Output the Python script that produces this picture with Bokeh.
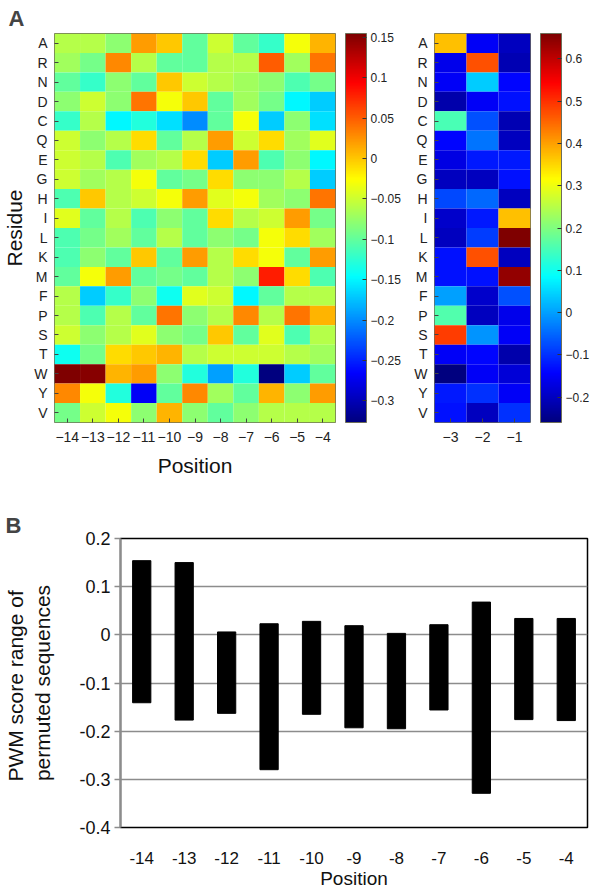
import numpy as np
from bokeh.plotting import figure
from bokeh.models import (FactorRange, Range1d, LinearColorMapper, ColorBar, FixedTicker,
                          ColumnDataSource, AllLabels)
from bokeh.layouts import column, row
from bokeh.embed import file_html
from bokeh.resources import INLINE

# ---------------- data ----------------
residues = ["A", "R", "N", "D", "C", "Q", "E", "G", "H", "I",
            "L", "K", "M", "F", "P", "S", "T", "W", "Y", "V"]
positions_left = [-14, -13, -12, -11, -10, -9, -8, -7, -6, -5, -4]
positions_right = [-3, -2, -1]

# PWM scores, rows follow `residues`, columns follow `positions_left`
pwm_left = [
    [-0.06, -0.06, -0.08, 0.02, 0.00, -0.10, -0.05, -0.10, -0.12, -0.03, 0.01],   # A
    [-0.07, -0.09, 0.03, -0.06, -0.10, -0.10, -0.06, -0.06, 0.05, -0.07, 0.04],   # R
    [-0.10, -0.12, -0.08, -0.10, 0.00, -0.05, -0.06, -0.07, -0.08, -0.11, -0.09], # N
    [-0.08, -0.05, -0.08, 0.04, -0.03, 0.00, -0.10, -0.07, -0.09, -0.15, -0.17],  # D
    [-0.12, -0.06, -0.15, -0.13, -0.16, -0.20, -0.10, -0.03, -0.17, -0.08, -0.16],# C
    [-0.05, -0.08, -0.06, -0.01, -0.10, -0.06, 0.02, -0.05, -0.01, -0.07, -0.04], # Q
    [-0.05, -0.06, -0.11, -0.07, -0.06, -0.01, -0.17, 0.02, -0.11, -0.08, -0.15], # E
    [-0.05, -0.07, -0.06, -0.03, -0.10, -0.09, -0.01, -0.08, -0.08, -0.06, -0.17],# G
    [-0.11, 0.00, -0.06, -0.05, -0.03, 0.02, -0.04, -0.03, -0.07, -0.08, 0.04],   # H
    [-0.04, -0.10, -0.06, -0.11, -0.08, -0.10, -0.01, -0.06, -0.05, 0.02, -0.09], # I
    [-0.11, -0.09, -0.07, -0.10, -0.06, -0.10, -0.08, -0.09, -0.03, -0.01, -0.07],# L
    [-0.11, -0.08, -0.10, 0.00, -0.10, 0.02, -0.06, -0.01, -0.03, -0.10, 0.02],   # K
    [-0.10, -0.03, 0.02, -0.10, -0.09, -0.10, -0.06, -0.08, 0.08, -0.01, -0.11],  # M
    [-0.06, -0.17, -0.12, -0.08, -0.14, -0.04, -0.05, -0.15, -0.10, -0.06, -0.06],# F
    [-0.06, -0.11, -0.06, -0.10, 0.04, -0.08, -0.06, 0.03, -0.06, 0.04, 0.01],    # P
    [-0.05, -0.08, -0.06, -0.04, -0.08, -0.09, 0.00, -0.10, -0.04, -0.11, -0.06], # S
    [-0.14, -0.09, -0.01, 0.00, 0.01, -0.06, -0.05, -0.05, -0.05, -0.06, -0.07],  # T
    [0.155, 0.15, 0.01, 0.02, -0.08, -0.13, -0.19, -0.13, -0.327, -0.17, -0.10],  # W
    [0.03, -0.03, -0.13, -0.27, -0.10, 0.03, -0.07, -0.10, 0.01, -0.08, 0.02],    # Y
    [-0.09, -0.05, -0.03, -0.08, 0.01, -0.08, -0.10, -0.08, -0.06, -0.06, -0.06], # V
]

# rows follow `residues`, columns follow `positions_right`
pwm_right = [
    [0.37, -0.15, -0.20],   # A
    [-0.16, 0.47, -0.21],   # R
    [-0.15, 0.04, -0.14],   # N
    [-0.22, -0.15, -0.13],  # D
    [0.15, -0.07, -0.21],   # C
    [-0.14, -0.04, -0.20],  # Q
    [-0.17, -0.12, -0.12],  # E
    [-0.20, -0.20, -0.13],  # G
    [-0.08, -0.05, -0.20],  # H
    [-0.19, -0.12, 0.37],   # I
    [-0.20, -0.09, 0.66],   # L
    [-0.13, 0.47, -0.20],   # K
    [-0.13, -0.13, 0.64],   # M
    [0.00, -0.19, -0.07],   # F
    [0.16, -0.20, -0.16],   # P
    [0.49, -0.01, -0.15],   # S
    [-0.15, -0.14, -0.22],  # T
    [-0.26, -0.15, -0.18],  # W
    [-0.12, -0.10, -0.15],  # Y
    [-0.13, -0.20, -0.10],  # V
]

cbar_left_ticks = [0.15, 0.1, 0.05, 0, -0.05, -0.1, -0.15, -0.2, -0.25, -0.3]
cbar_right_ticks = [0.6, 0.5, 0.4, 0.3, 0.2, 0.1, 0, -0.1, -0.2]

# Panel B: range of PWM scores of permuted sequences
range_positions = [-14, -13, -12, -11, -10, -9, -8, -7, -6, -5, -4]
range_max = [0.154, 0.150, 0.006, 0.023, 0.028, 0.019, 0.003, 0.021, 0.068, 0.034, 0.034]
range_min = [-0.141, -0.177, -0.163, -0.280, -0.165, -0.193, -0.195, -0.156, -0.329, -0.176, -0.178]
b_ticks = [-0.4, -0.3, -0.2, -0.1, 0, 0.1, 0.2]

# ---------------- styling helpers ----------------
FONT = "Liberation Sans"
MINUS = "\u2212"


def jet(n=256):
    cols = []
    for i in range(n):
        t = i / (n - 1)
        r = min(max(1.5 - abs(4 * t - 3), 0), 1)
        g = min(max(1.5 - abs(4 * t - 2), 0), 1)
        b = min(max(1.5 - abs(4 * t - 1), 0), 1)
        cols.append("#%02x%02x%02x" % (int(r * 255), int(g * 255), int(b * 255)))
    return cols


JET = jet(256)
OUTLINE = "#6e6e58"


def mlabel(v):
    s = ("%g" % abs(v))
    return (MINUS + s) if v < 0 else s


def heat_source(matrix, positions):
    xs, ys, vs = [], [], []
    for ri, res in enumerate(residues):
        for ci, pos in enumerate(positions):
            xs.append(mlabel(pos))
            ys.append(res)
            vs.append(matrix[ri][ci])
    return ColumnDataSource(dict(x=xs, y=ys, v=vs))


def style_heat(p):
    p.outline_line_color = OUTLINE
    p.outline_line_width = 1
    p.grid.grid_line_color = None
    for ax in (p.xaxis[0], p.yaxis[0]):
        ax.axis_line_color = None
        ax.major_tick_in = 4
        ax.major_tick_out = 0
        ax.major_tick_line_color = "#444444"
        ax.major_label_text_font = FONT
        ax.major_label_text_font_size = "14px"
        ax.major_label_text_color = "#222222"
    p.xaxis.major_label_standoff = 9
    p.yaxis.major_label_standoff = 7


def make_cbar(mapper, ticks):
    return ColorBar(color_mapper=mapper, width=21, height=389, location=(10, 0),
                    padding=0, margin=0,
                    ticker=FixedTicker(ticks=ticks),
                    major_label_overrides={t: mlabel(t) for t in ticks},
                    major_label_policy=AllLabels(),
                    major_label_text_font=FONT, major_label_text_font_size="12px",
                    major_label_text_color="#222222",
                    major_tick_in=4, major_tick_out=0, major_tick_line_color="#333333",
                    label_standoff=4, bar_line_color=OUTLINE,
                    border_line_color=None, background_fill_color=None)


# ---------------- panel A, left heatmap ----------------
xl = [mlabel(v) for v in positions_left]
src_l = heat_source(pwm_left, positions_left)
vals_l = [v for r in pwm_left for v in r]
map_l = LinearColorMapper(palette=JET, low=min(vals_l), high=max(vals_l))

p1 = figure(frame_width=281, frame_height=389, x_range=FactorRange(*xl),
            y_range=FactorRange(*reversed(residues)),
            output_backend="svg", toolbar_location=None, title="A",
            min_border_left=46, min_border_right=71, min_border_top=24, min_border_bottom=63)
p1.rect(x="x", y="y", width=1, height=1, source=src_l,
        fill_color={"field": "v", "transform": map_l}, line_color=None)
style_heat(p1)
p1.xaxis.axis_label = "Position"
p1.yaxis.axis_label = "Residue"
for ax in (p1.xaxis[0], p1.yaxis[0]):
    ax.axis_label_text_font = FONT
    ax.axis_label_text_font_size = "21px"
    ax.axis_label_text_font_style = "normal"
    ax.axis_label_text_color = "#111111"
p1.xaxis.axis_label_standoff = 9
p1.yaxis.axis_label_standoff = 5
p1.title.text_font = FONT
p1.title.text_font_size = "22px"
p1.title.text_font_style = "bold"
p1.title.align = "left"
p1.title.offset = -46
p1.title.standoff = 6
p1.add_layout(make_cbar(map_l, cbar_left_ticks), "right")

# ---------------- panel A, right heatmap ----------------
xr = [mlabel(v) for v in positions_right]
src_r = heat_source(pwm_right, positions_right)
vals_r = [v for r in pwm_right for v in r]
map_r = LinearColorMapper(palette=JET, low=min(vals_r), high=max(vals_r))

p2 = figure(frame_width=96, frame_height=389, x_range=FactorRange(*xr),
            y_range=FactorRange(*reversed(residues)),
            output_backend="svg", toolbar_location=None,
            min_border_left=28, min_border_right=62, min_border_top=24, min_border_bottom=63)
p2.rect(x="x", y="y", width=1, height=1, source=src_r,
        fill_color={"field": "v", "transform": map_r}, line_color=None)
style_heat(p2)
p2.add_layout(make_cbar(map_r, cbar_right_ticks), "right")

# ---------------- panel B ----------------
xb = [str(v) for v in range_positions]
src_b = ColumnDataSource(dict(x=xb, lo=range_min, hi=range_max))
p3 = figure(frame_width=467, frame_height=289, x_range=FactorRange(*xb), y_range=Range1d(-0.4, 0.2),
            output_backend="svg", toolbar_location=None, title="B",
            min_border_left=115, min_border_right=2, min_border_top=53, min_border_bottom=62)
p3.vbar(x="x", bottom="lo", top="hi", width=0.43, source=src_b,
        fill_color="black", line_color="black")
p3.outline_line_color = "black"
p3.outline_line_width = 1.5
p3.xgrid.grid_line_color = None
p3.ygrid.grid_line_color = "#8c8c8c"
p3.ygrid.grid_line_width = 1.5
p3.yaxis.ticker = FixedTicker(ticks=b_ticks)
p3.yaxis.major_label_overrides = {t: ("%g" % t) for t in b_ticks}
p3.yaxis.axis_line_color = "#8c8c8c"
p3.yaxis.axis_line_width = 2
p3.yaxis.major_tick_out = 6
p3.yaxis.major_tick_in = 0
p3.yaxis.major_tick_line_color = "#8c8c8c"
p3.yaxis.major_tick_line_width = 1.5
p3.yaxis.major_label_standoff = 4
p3.yaxis.minor_tick_line_color = None
p3.xaxis.major_tick_line_color = None
p3.xaxis.axis_line_color = "black"
p3.xaxis.major_label_standoff = 18
for ax in (p3.xaxis[0], p3.yaxis[0]):
    ax.major_label_text_font = FONT
    ax.major_label_text_font_size = "18px"
    ax.major_label_text_color = "#111111"
    ax.axis_label_text_font = FONT
    ax.axis_label_text_font_style = "normal"
    ax.axis_label_text_color = "#111111"
p3.xaxis.major_label_text_font_size = "17px"
p3.xaxis.axis_label = "Position"
p3.xaxis.axis_label_text_font_size = "19px"
p3.xaxis.axis_label_standoff = 1
p3.yaxis.axis_label = "PWM  score range of\npermuted sequences"
p3.yaxis.axis_label_text_font_size = "21px"
p3.yaxis.axis_label_standoff = 22
p3.title.text_font = FONT
p3.title.text_font_size = "22px"
p3.title.text_font_style = "bold"
p3.title.align = "left"
p3.title.offset = -115
p3.title.standoff = 2

layout = column(row(p1, p2), p3)
open("out.html", "w").write(file_html(layout, INLINE))
